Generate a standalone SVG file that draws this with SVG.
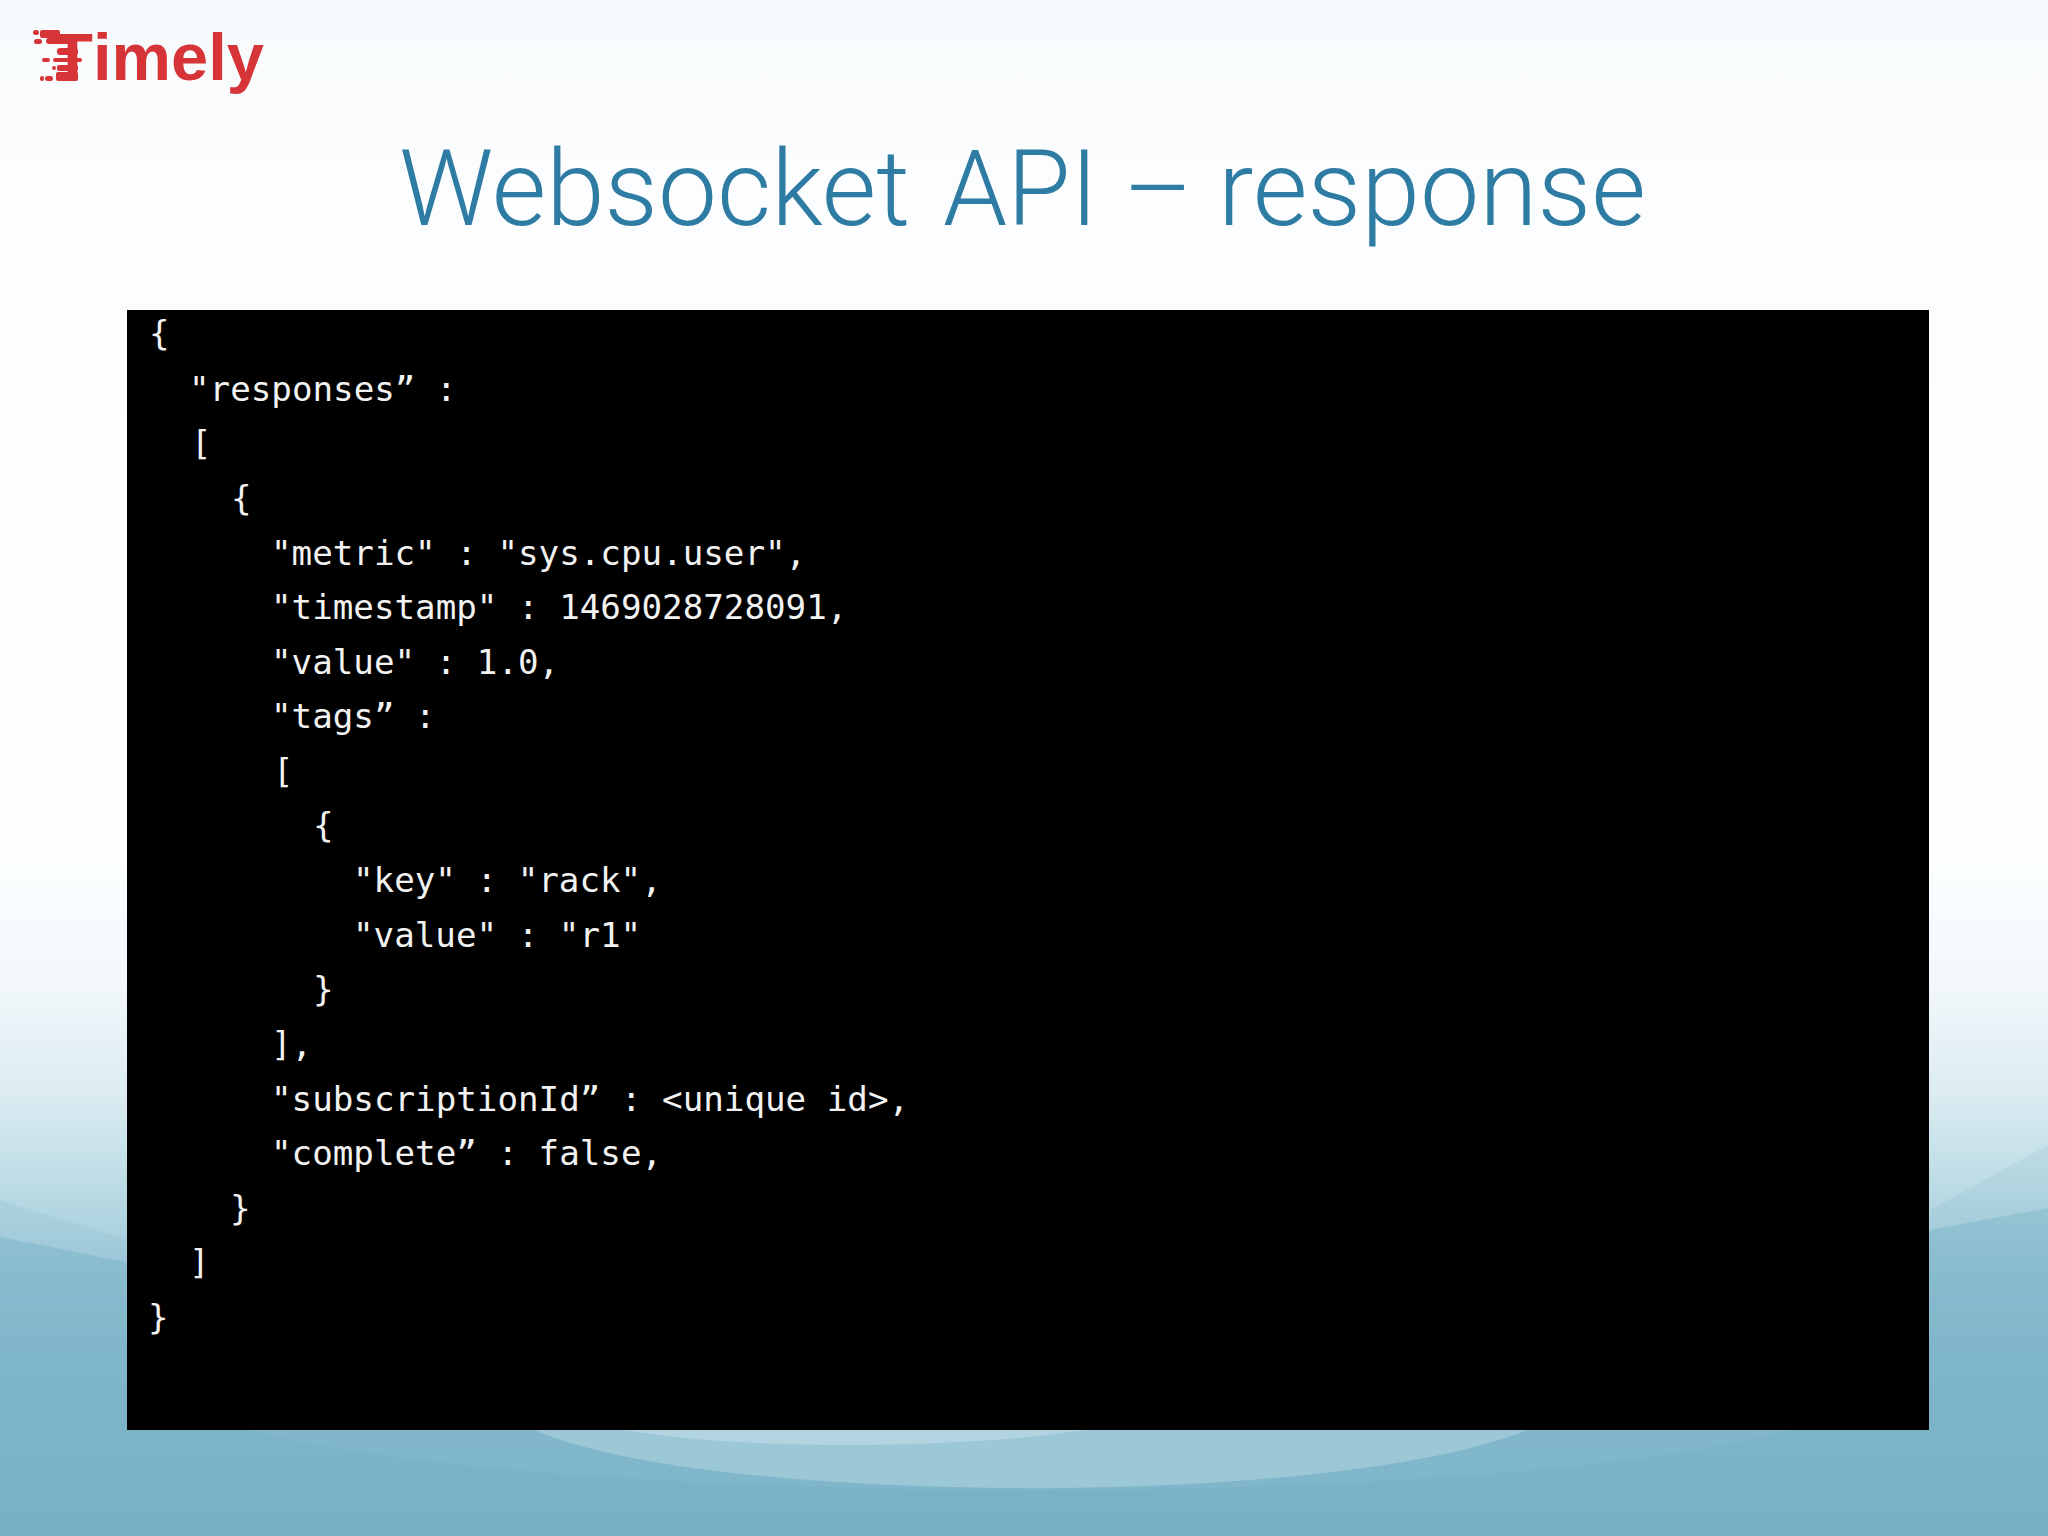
<svg xmlns="http://www.w3.org/2000/svg" width="2048" height="1536" viewBox="0 0 2048 1536">
<defs>
<linearGradient id="bg" gradientUnits="userSpaceOnUse" x1="0" y1="0" x2="0" y2="1536">
<stop offset="0" stop-color="#f7fafc"/><stop offset="0.13" stop-color="#fcfdfe"/><stop offset="0.56" stop-color="#fcfeff"/><stop offset="0.64" stop-color="#f2f8fb"/><stop offset="0.71" stop-color="#dcecf2"/><stop offset="0.76" stop-color="#c2dfe7"/><stop offset="0.79" stop-color="#b2d6e1"/><stop offset="0.83" stop-color="#a0cada"/><stop offset="0.91" stop-color="#8ebfd1"/><stop offset="1" stop-color="#86bacd"/>
</linearGradient>
<style>
.code{font-family:"DejaVu Sans Mono","Liberation Mono",monospace;font-size:34.2px;fill:#f2f2f2;white-space:pre}
.title{font-family:Roboto,"Liberation Sans",sans-serif;font-weight:300;font-size:106px;fill:#2e7ca3}
.logo{font-family:"Liberation Sans",Arial,sans-serif;font-weight:700;font-size:67px;fill:#d73437}
.dash{fill:#d73437}
</style>
</defs>
<g id="background">
<rect width="2048" height="1536" fill="url(#bg)"/>
<path d="M0 1200 L130 1241 L1930 1241 L1930 1210 L2048 1145 L2048 1536 L0 1536Z" fill="#6aa8c1" opacity=".12"/>
<path d="M0 1237 L130 1263 L1930 1230 L2048 1208 L2048 1536 L0 1536Z" fill="#5fa2bc" opacity=".28"/>
<path d="M250 1430 C520 1505 1480 1515 1790 1430Z" fill="#a5cddb" opacity=".15"/>
<path d="M535 1430 C700 1505 1330 1510 1527 1430Z" fill="#b5d8e3" opacity=".5"/>
<path d="M627 1430 C730 1450 960 1450 1083 1430Z" fill="#c6e1e9" opacity=".5"/>
</g>
<g id="logo">
<text class="logo" x="52" y="80" font-size="72">T</text>
<text class="logo" x="93" y="80" textLength="171" lengthAdjust="spacingAndGlyphs">imely</text>
<rect class="dash" x="33" y="30" width="6" height="5" rx="2.5"/>
<rect class="dash" x="40" y="30" width="20" height="8" rx="2"/>
<rect class="dash" x="34" y="39" width="8" height="5" rx="2.5"/>
<rect class="dash" x="46" y="38" width="30" height="6" rx="3"/>
<rect class="dash" x="57" y="48" width="21" height="7" rx="3"/>
<rect class="dash" x="42" y="58" width="8" height="4" rx="2"/>
<rect class="dash" x="53" y="58" width="29" height="4" rx="2"/>
<rect class="dash" x="52" y="66" width="4" height="4" rx="2"/>
<rect class="dash" x="57" y="65" width="21" height="6" rx="2"/>
<rect class="dash" x="40" y="76" width="4" height="5" rx="2"/>
<rect class="dash" x="45" y="76" width="8" height="5" rx="2.5"/>
<rect class="dash" x="56" y="72" width="22" height="9" rx="2"/>
</g>
<g id="title">
<text class="title" x="399" y="225" textLength="511" lengthAdjust="spacingAndGlyphs">Websocket</text>
<text class="title" x="943" y="225" textLength="155" lengthAdjust="spacingAndGlyphs">API</text>
<text class="title" x="1123" y="225" textLength="70" lengthAdjust="spacingAndGlyphs">–</text>
<text class="title" x="1218" y="225" textLength="428" lengthAdjust="spacingAndGlyphs">response</text>
</g>
<g id="code-panel">
<rect x="127" y="310" width="1802" height="1120" fill="#000"/>
<text class="code" x="149" y="345">{</text>
<text class="code" x="189" y="401">"responses” :</text>
<text class="code" x="191" y="455">[</text>
<text class="code" x="231" y="510">{</text>
<text class="code" x="271" y="565">"metric" : "sys.cpu.user",</text>
<text class="code" x="271" y="619">"timestamp" : 1469028728091,</text>
<text class="code" x="271" y="674">"value" : 1.0,</text>
<text class="code" x="271" y="728">"tags” :</text>
<text class="code" x="273" y="783">[</text>
<text class="code" x="313" y="837">{</text>
<text class="code" x="353" y="892">"key" : "rack",</text>
<text class="code" x="353" y="947">"value" : "r1"</text>
<text class="code" x="313" y="1001">}</text>
<text class="code" x="271" y="1056">],</text>
<text class="code" x="271" y="1111">"subscriptionId” : &lt;unique id&gt;,</text>
<text class="code" x="271" y="1165">"complete” : false,</text>
<text class="code" x="230" y="1220">}</text>
<text class="code" x="189" y="1274">]</text>
<text class="code" x="148" y="1329">}</text>
</g>
</svg>
